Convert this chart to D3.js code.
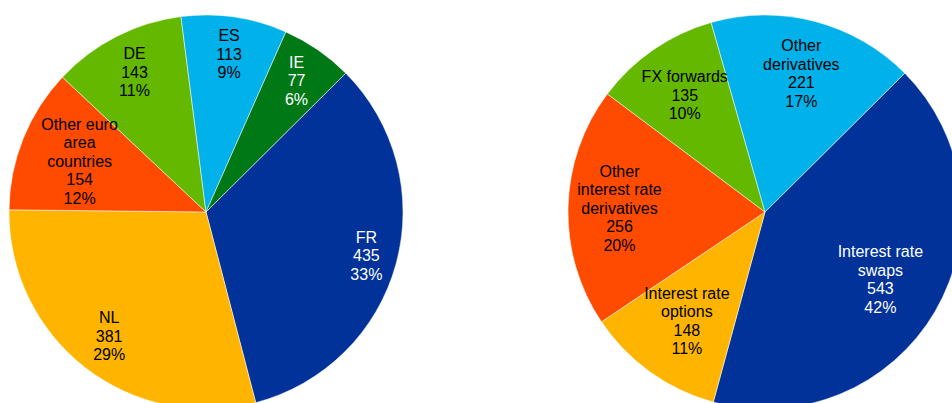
<!DOCTYPE html>
<html>
<head>
<meta charset="utf-8">
<script src="https://cdn.jsdelivr.net/npm/d3@7"></script>
<style>
  html, body { margin: 0; padding: 0; background: #fff; overflow: hidden; }
  svg { display: block; }
</style>
</head>
<body>
<div id="chart"></div>
<script>
// Left pie: by country
const countryLabels = ["FR", "NL", "Other euro\narea\ncountries", "DE", "ES", "IE"];
const countryValues = [435, 381, 154, 143, 113, 77];
const countryPct = ["33%", "29%", "12%", "11%", "9%", "6%"];

// Right pie: by instrument
const instrumentLabels = ["Interest rate\nswaps", "Interest rate\noptions", "Other\ninterest rate\nderivatives", "FX forwards", "Other\nderivatives"];
const instrumentValues = [543, 148, 256, 135, 221];
const instrumentPct = ["42%", "11%", "20%", "10%", "17%"];

const leftColors = ["#003299", "#FFB400", "#FF4B00", "#65B800", "#00B1EA", "#007816"];
const rightColors = ["#003299", "#FFB400", "#FF4B00", "#65B800", "#00B1EA"];
const whiteText = ["#003299", "#007816"];

const width = 952, height = 403;
const radius = 197;
const fontSize = 16, lineHeight = 18.5;

const svg = d3.select("#chart").append("svg")
    .attr("width", width)
    .attr("height", height)
    .style("font-family", "'Liberation Sans', Arial, sans-serif")
    .style("font-size", fontSize + "px");

// measure text widths for label placement
const measure = svg.append("text").attr("visibility", "hidden");
function textWidth(s) {
  measure.text(s);
  return measure.node().getComputedTextLength();
}

function drawPie(cx, cy, labels, values, pcts, colors, startDeg) {
  const start = startDeg * Math.PI / 180;
  const pie = d3.pie().sort(null).value(d => d.value)
      .startAngle(start).endAngle(start + 2 * Math.PI);
  const data = labels.map((l, i) => ({label: l, value: values[i], pct: pcts[i], color: colors[i]}));
  const arcs = pie(data);
  const arc = d3.arc().innerRadius(0).outerRadius(radius);

  const g = svg.append("g").attr("transform", `translate(${cx},${cy})`);

  g.selectAll("path")
    .data(arcs)
    .join("path")
      .attr("d", arc)
      .attr("fill", d => d.data.color)
      .attr("stroke", "#fff")
      .attr("stroke-width", 0.5);

  // labels inside, pushed toward the rim so the text box stays inside
  const rLimit = 189;
  arcs.forEach(d => {
    const lines = d.data.label.split("\n").concat([String(d.data.value), d.data.pct]);
    const hw = d3.max(lines, textWidth) / 2;
    const hh = lines.length * lineHeight / 2;
    const mid = (d.startAngle + d.endAngle) / 2;
    const sx = Math.sin(mid), sy = -Math.cos(mid);
    const r = rLimit - (Math.abs(sx) * hw + Math.abs(sy) * hh);
    const x = sx * r, y = sy * r;
    const t = g.append("text")
        .attr("text-anchor", "middle")
        .attr("fill", whiteText.includes(d.data.color) ? "#fff" : "#000");
    lines.forEach((ln, i) => {
      t.append("tspan")
        .attr("x", x)
        .attr("y", y - hh + lineHeight * (i + 0.5))
        .attr("dy", "0.35em")
        .text(ln);
    });
  });
}

drawPie(206, 212, countryLabels, countryValues, countryPct, leftColors, 45.2);
drawPie(765, 212, instrumentLabels, instrumentValues, instrumentPct, rightColors, 45.2);
measure.remove();
</script>
</body>
</html>
